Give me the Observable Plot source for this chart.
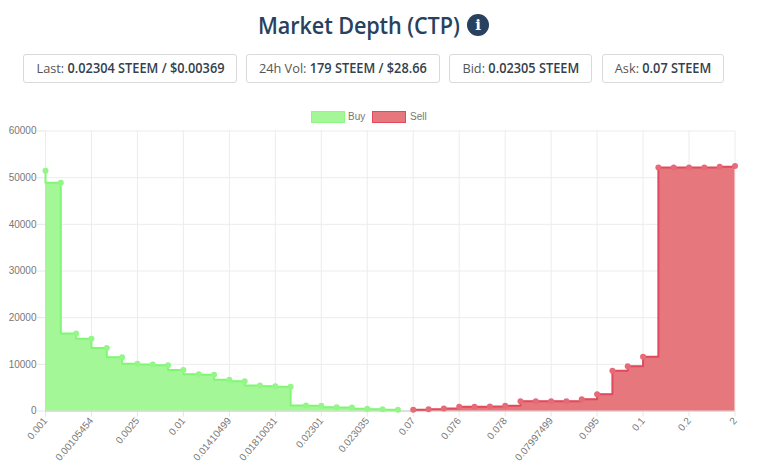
<!DOCTYPE html>
<html>
<head>
<meta charset="utf-8">
<script src="https://cdn.jsdelivr.net/npm/d3@7"></script>
<script src="https://cdn.jsdelivr.net/npm/@observablehq/plot@0.6"></script>
<style>
html,body{margin:0;padding:0;background:#fff;width:768px;height:471px;overflow:hidden}
body{font-family:"Open Sans",sans-serif;color:#2c4a68}
.title{position:absolute;left:258px;top:8px;height:34px;line-height:34px;font-size:23px;font-weight:600;color:#28415e;letter-spacing:-.1px;transform:scaleX(.94);transform-origin:left center;white-space:nowrap}
.info{position:absolute;left:467px;top:14px;width:22px;height:22px;border-radius:50%;background:#28415e;color:#fff;font:bold 15px/22px "DejaVu Serif",serif;text-align:center}
.pill{position:absolute;top:54px;height:27px;line-height:27px;box-sizing:content-box;border:1px solid #d9d9d9;border-radius:3px;text-align:center;font-size:13.5px;color:#555;background:#fff;white-space:nowrap}
.pill span{display:inline-block;transform:scaleX(.945);transform-origin:center}
.pill b{font-weight:600;color:#33404d}
.leg{position:absolute;top:110px;height:14px;font:10px "Liberation Sans",Arial,sans-serif;color:#777;line-height:14px}
.sw{position:absolute;top:111px;width:32px;height:10px;border:1.5px solid}
#chart{position:absolute;left:0;top:120px}
</style>
</head>
<body>
<div class="title">Market Depth (CTP)</div><span class="info">i</span>
<div class="pill" style="left:23px;width:212px"><span>Last: <b>0.02304 STEEM / $0.00369</b></span></div>
<div class="pill" style="left:246px;width:192px"><span>24h Vol: <b>179 STEEM / $28.66</b></span></div>
<div class="pill" style="left:449px;width:141px"><span>Bid: <b>0.02305 STEEM</b></span></div>
<div class="pill" style="left:602px;width:120px"><span>Ask: <b>0.07 STEEM</b></span></div>
<div class="sw" style="left:311px;background:#a3f797;border-color:#8ff884"></div><div class="leg" style="left:348px">Buy</div>
<div class="sw" style="left:372px;background:#e5777d;border-color:#e04a5e"></div><div class="leg" style="left:410px">Sell</div>
<div id="chart"></div>
<script>
const tickLabels = ["0.001","0.00105454","0.0025","0.01","0.01410499","0.01810031","0.02301","0.023035","0.07","0.076","0.078","0.07997499","0.095","0.1","0.2","2"];
const buyValues = [51500,48900,16600,15500,13500,11500,10100,9950,9800,8800,7900,7750,6670,6390,5460,5320,5180,1180,1100,820,750,460,390,250];
const sellValues = [250,390,530,890,890,960,1100,2100,2100,2100,2100,2530,3600,8600,9600,11600,52200,52200,52200,52200,52350,52500];
const yTicks = [0,10000,20000,30000,40000,50000,60000];

const buy = buyValues.map((v,i)=>({i,v}));
const sell = sellValues.map((v,i)=>({i:i+buyValues.length,v}));
const xTicks = tickLabels.map((_,k)=>k*3);
const buyFill="#a3f797", buyLine="#80f772", sellFill="#e5777d", sellLine="#e04a5e", sellDot="#e76a77";

const chart = Plot.plot({
  width:768, height:351,
  marginTop:10.5, marginBottom:60.5, marginLeft:45, marginRight:33.5,
  style:{background:"transparent",fontFamily:"'Liberation Sans',Arial,sans-serif",fontSize:"10px",overflow:"visible"},
  x:{type:"linear",domain:[0,45]},
  y:{domain:[0,60000]},
  marks:[
    Plot.gridY(yTicks,{stroke:"#ececec",strokeOpacity:1}),
    Plot.gridX(xTicks,{stroke:"#ececec",strokeOpacity:1}),
    Plot.axisY({ticks:yTicks,tickSize:8,tickPadding:1,stroke:"#e6e6e6",color:"#777",label:null,tickFormat:d=>String(d)}),
    Plot.axisX({ticks:xTicks,tickSize:6,tickPadding:2,tickRotate:-50,stroke:"#e6e6e6",color:"#777",label:null,tickFormat:d=>tickLabels[d/3]}),
    Plot.ruleY([0],{stroke:"#c8c8c8"}),
    Plot.areaY(buy,{x:"i",y:"v",curve:"step-before",fill:buyFill}),
    Plot.areaY(sell,{x:"i",y:"v",curve:"step-after",fill:sellFill}),
    Plot.line(buy,{x:"i",y:"v",curve:"step-before",stroke:buyLine,strokeWidth:2}),
    Plot.line(sell,{x:"i",y:"v",curve:"step-after",stroke:sellLine,strokeWidth:2}),
    Plot.dot(buy,{x:"i",y:"v",r:3,fill:"#94f688"}),
    Plot.dot(sell,{x:"i",y:"v",r:3,fill:sellDot})
  ]
});
document.getElementById("chart").appendChild(chart);
</script>
</body>
</html>
